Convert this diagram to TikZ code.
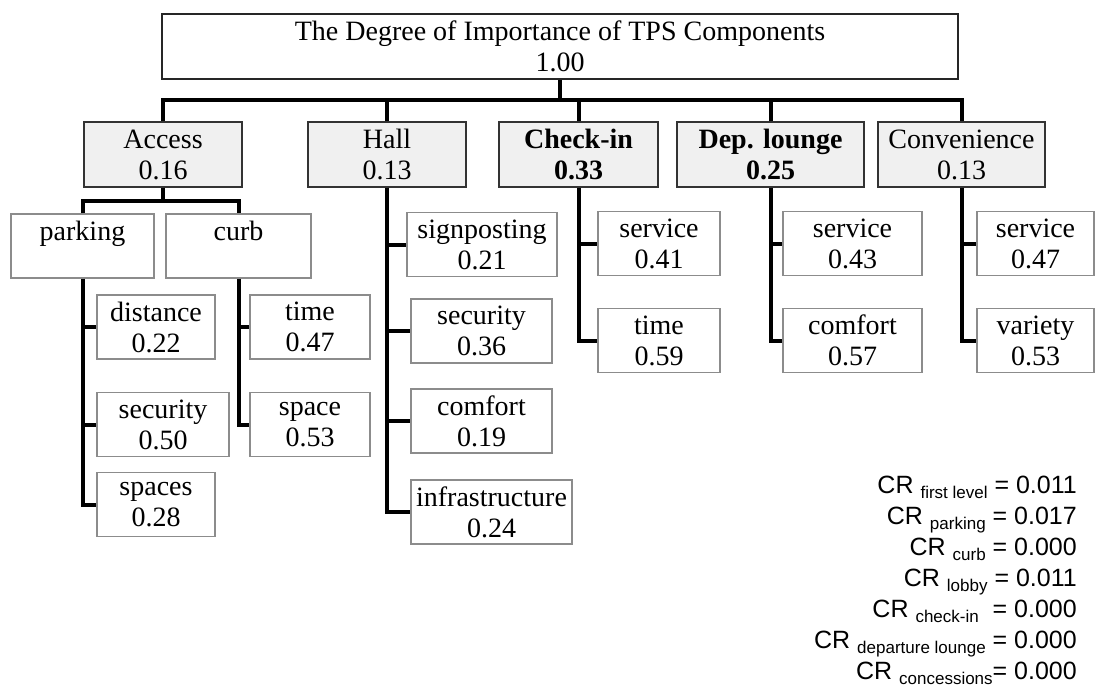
\documentclass[tikz,border=0pt]{standalone}
\usepackage{fontspec}
\setmainfont{Liberation Serif}
\newfontfamily\crfont{Liberation Sans}
\usetikzlibrary{positioning}
\newcommand{\crsub}[1]{\raisebox{-5pt}{\fontsize{17}{17}\selectfont #1}}

\begin{document}
\begin{tikzpicture}[x=1pt,y=-1pt,
  font=\fontsize{28}{31}\selectfont,
  top/.style={draw=black!85, line width=1.2pt, fill=white, align=center, inner sep=0pt, minimum height=65pt},
  grp/.style={draw=black!80, line width=1.2pt, fill=black!6, align=center, inner sep=0pt, minimum height=65pt},
  leaf/.style={draw=black!45, line width=1.2pt, fill=white, align=center, inner sep=0pt, minimum height=64pt},
  conn/.style={line width=4pt, draw=black}
]
\fill[white] (0,0) rectangle (1096,689);
\useasboundingbox (0,0) rectangle (1096,689);
\node[top, minimum width=796pt] (root) at (560,46.5) {The Degree of Importance of TPS Components\\1.00};
\node[grp, minimum width=158pt] (acc) at (163,154.5) {Access\\0.16};
\node[grp, minimum width=158pt] (hall) at (387,154.5) {Hall\\0.13};
\node[grp, minimum width=159pt, font=\fontsize{28}{31}\selectfont\bfseries] (chk) at (578.5,154.5) {Check-in\\0.33};
\node[grp, minimum width=187pt, font=\fontsize{28}{31}\selectfont\bfseries] (dep) at (770.5,154.5) {Dep. lounge\\0.25};
\node[grp, minimum width=167pt] (conv) at (961.5,154.5) {Convenience\\0.13};
\node[leaf, minimum width=143pt] (park) at (82.5,246) {parking\\\phantom{0}};
\node[leaf, minimum width=145pt] (curb) at (238.5,246) {curb\\\phantom{0}};
\node[leaf, minimum width=118pt] (dist) at (156,327) {distance\\0.22};
\node[leaf, minimum width=132pt] (psec) at (163,424.5) {security\\0.50};
\node[leaf, minimum width=118pt] (spaces) at (156,504.5) {spaces\\0.28};
\node[leaf, minimum width=120pt] (ctime) at (310,327) {time\\0.47};
\node[leaf, minimum width=120pt] (cspace) at (310,424.5) {space\\0.53};
\node[leaf, minimum width=150pt] (sign) at (482,244.5) {signposting\\0.21};
\node[leaf, minimum width=141pt] (hsec) at (481.5,331) {security\\0.36};
\node[leaf, minimum width=141pt] (hcom) at (481.5,421) {comfort\\0.19};
\node[leaf, minimum width=161pt] (infra) at (491.5,512) {infrastructure\\0.24};
\node[leaf, minimum width=122pt] (cisv) at (659,243.5) {service\\0.41};
\node[leaf, minimum width=122pt] (citime) at (659,340.5) {time\\0.59};
\node[leaf, minimum width=139pt] (dsv) at (852.5,243.5) {service\\0.43};
\node[leaf, minimum width=139pt] (dcom) at (852.5,340.5) {comfort\\0.57};
\node[leaf, minimum width=117pt] (csv) at (1035.5,243.5) {service\\0.47};
\node[leaf, minimum width=117pt] (cvar) at (1035.5,340.5) {variety\\0.53};
\coordinate (rootbar) at (560,100);
\coordinate (accbar) at (163,201);
\draw[conn] (root.south) -- (rootbar);
\draw[conn] (acc.north) |- (rootbar) -| (conv.north);
\foreach \g in {hall,chk,dep} \draw[conn] (\g.north) -- (\g.north |- rootbar);
\draw[conn] (acc.south) -- (accbar);
\draw[conn] (park.north) |- (accbar) -| (curb.north);
\draw[conn] (park.south) |- (spaces.west);
\foreach \c in {dist,psec} \draw[conn] (park.south |- \c.west) -- (\c.west);
\draw[conn] (curb.south) |- (cspace.west);
\draw[conn] (curb.south |- ctime.west) -- (ctime.west);
\draw[conn] (hall.south) |- (infra.west);
\foreach \c in {sign,hsec,hcom} \draw[conn] (hall.south |- \c.west) -- (\c.west);
\draw[conn] (chk.south) |- (citime.west);
\draw[conn] (chk.south |- cisv.west) -- (cisv.west);
\draw[conn] (dep.south) |- (dcom.west);
\draw[conn] (dep.south |- dsv.west) -- (dsv.west);
\draw[conn] (conv.south) |- (cvar.west);
\draw[conn] (conv.south |- csv.west) -- (csv.west);
\node[font=\crfont\fontsize{25}{31}\selectfont, align=right, anchor=east, inner sep=0pt] (cr) at (1077,580) {CR \crsub{first level} = 0.011\\CR \crsub{parking} = 0.017\\CR \crsub{curb} = 0.000\\CR \crsub{lobby} = 0.011\\CR \crsub{check-in}\ \ = 0.000\\CR \crsub{departure lounge} = 0.000\\CR \crsub{concessions}= 0.000};
\end{tikzpicture}
\end{document}
